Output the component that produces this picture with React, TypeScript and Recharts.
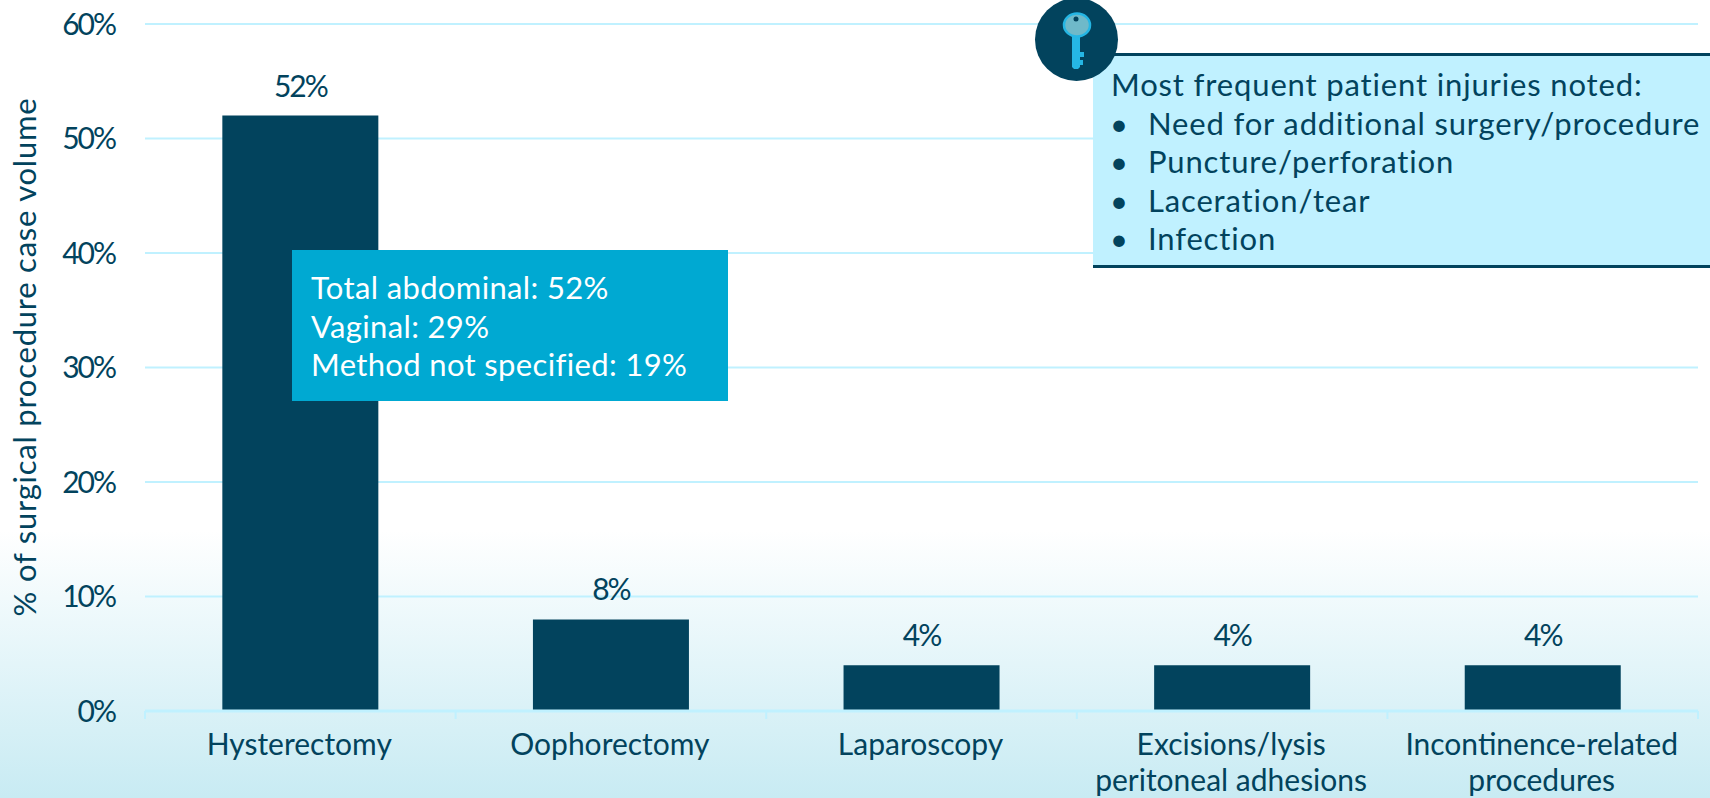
import React from "react";
import { BarChart, Bar, XAxis, YAxis, CartesianGrid, LabelList } from "recharts";

const categories = ["Hysterectomy", "Oophorectomy", "Laparoscopy", "Excisions/lysis\nperitoneal adhesions", "Incontinence-related\nprocedures"];
const values = [52, 8, 4, 4, 4];
const yTicks = [0, 10, 20, 30, 40, 50, 60];
const methodLines = ["Total abdominal: 52%", "Vaginal: 29%", "Method not specified: 19%"];
const injuryTitle = "Most frequent patient injuries noted:";
const injuries = ["Need for additional surgery/procedure", "Puncture/perforation", "Laceration/tear", "Infection"];
const yTitle = "% of surgical procedure case volume";

const rows = categories.map((name, i) => ({ name, value: values[i] }));

const INK = "#02435d";
const LIGHT = "#c0f1ff";
const FONT = "Lato, 'Open Sans', sans-serif";

function CatTick(props: any) {
  const { x, y, payload, index } = props;
  const half = payload.offset ?? 155;
  const lines = String(payload.value).split("\n");
  const axisY = y;
  return (
    <g>
      <line x1={x - half} x2={x - half} y1={axisY - 8} y2={axisY} stroke={LIGHT} strokeWidth={2} />
      {index === categories.length - 1 && <line x1={x + half} x2={x + half} y1={axisY - 8} y2={axisY} stroke={LIGHT} strokeWidth={2} />}
      {lines.map((l, i) => (
        <text key={i} x={x - 1} y={axisY + 36 + i * 36} textAnchor="middle" fill={INK} fontFamily={FONT} fontSize={30}>{l}</text>
      ))}
    </g>
  );
}

export default function App() {
  return (
    <div style={{ position: "fixed", left: 0, top: 0, width: 1710, height: 798, overflow: "hidden", fontFamily: FONT, color: INK,
      background: "linear-gradient(to bottom, #ffffff 0, #ffffff 530px, #c8ebf3 798px)" }}>
      <BarChart width={1710} height={798} data={rows} margin={{ top: 24, right: 12, bottom: 0, left: 0 }} barCategoryGap="24.9%">
        <CartesianGrid vertical={false} stroke={LIGHT} strokeWidth={2} />
        <XAxis dataKey="name" interval={0} tick={<CatTick />} tickLine={false} axisLine={{ stroke: LIGHT, strokeWidth: 3 }} height={87} tickSize={8} tickMargin={0} />
        <YAxis type="number" domain={[0, 60]} ticks={yTicks} width={145} tickLine={false} axisLine={false} tickSize={0} tickMargin={30}
          tickFormatter={(v: number) => `${v}%`} tick={{ fill: INK, fontFamily: FONT, fontSize: 30, letterSpacing: -2 }}
          label={{ content: () => (
            <text transform="translate(36,357) rotate(-90)" textAnchor="middle" fill={INK} fontFamily={FONT} fontSize={31} letterSpacing={0.77}>{yTitle}</text>
          ) }} />
        <Bar dataKey="value" fill={INK} isAnimationActive={false}>
          <LabelList dataKey="value" position="top" offset={19} formatter={(v: number) => `${v}%`} fill={INK} fontFamily={FONT} fontSize={30} letterSpacing={-2} />
        </Bar>
      </BarChart>

      <div style={{ position: "absolute", left: 292, top: 250, width: 436, height: 151, background: "#00a9d2", color: "#fff", fontSize: 31, letterSpacing: 0.35, lineHeight: "38.5px", padding: "18px 0 0 19px", boxSizing: "border-box" }}>
        {methodLines.map((l) => <div key={l}>{l}</div>)}
      </div>

      <div style={{ position: "absolute", left: 1093, top: 53, width: 617, height: 215, background: LIGHT, borderTop: `3px solid ${INK}`, borderBottom: `3px solid ${INK}`, boxSizing: "border-box", fontSize: 31, letterSpacing: 0.85, lineHeight: "38.5px", paddingTop: 9, whiteSpace: "nowrap" }}>
        <div style={{ paddingLeft: 18 }}>{injuryTitle}</div>
        {injuries.map((l) => (
          <div key={l} style={{ position: "relative", paddingLeft: 55 }}>
            <span style={{ position: "absolute", left: 17 }}>•</span>{l}
          </div>
        ))}
      </div>

      <svg width={90} height={90} style={{ position: "absolute", left: 1033, top: -2 }}>
        <circle cx={43.5} cy={41.5} r={41.5} fill={INK} />
        <path d="M39 36 h8 v18 h4 v5 h-4 v3 h3 v5 h-3 v2 l-2 2 h-4 l-2 -2 z" fill="#25b6e4" />
        <ellipse cx={44} cy={27} rx={13} ry={11.5} fill="#6fb9c9" stroke="#25b6e4" strokeWidth={2.5} />
        <circle cx={43} cy={21} r={2.5} fill={INK} />
      </svg>
    </div>
  );
}
